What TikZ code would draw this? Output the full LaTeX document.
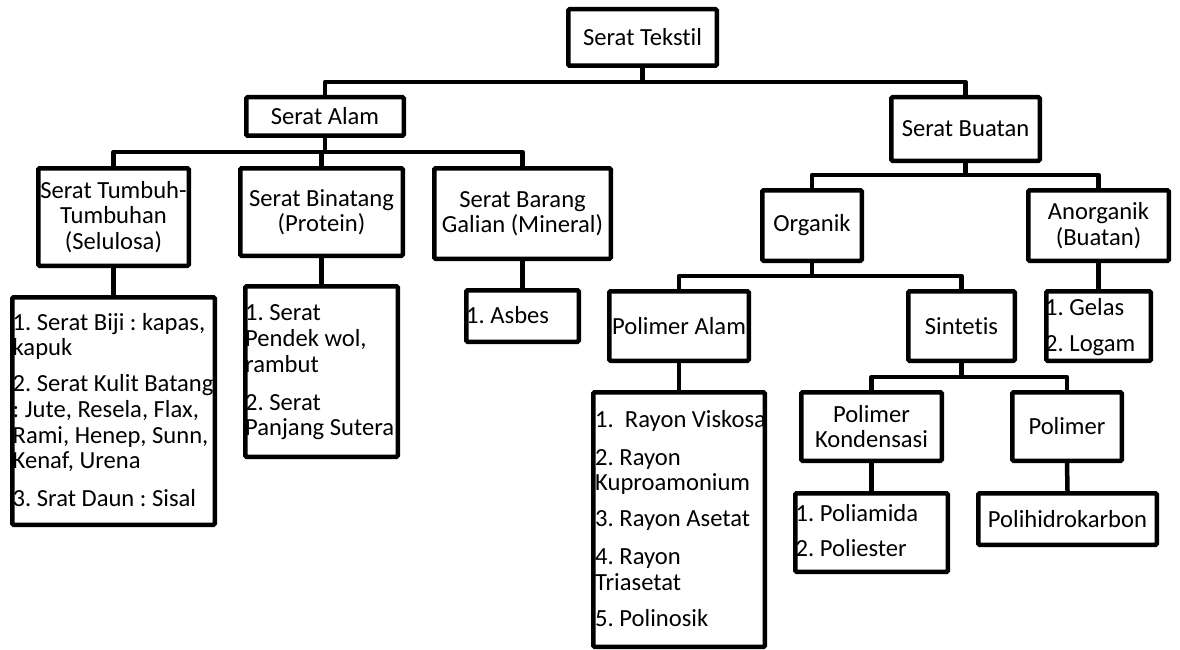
\documentclass[tikz,border=0pt]{standalone}
\usepackage{fontspec}
\setmainfont{Carlito}[Ligatures={NoCommon}]
\frenchspacing
\newcommand\bxnode[6]{\node[bx, minimum width={#4-#2-4.5}, minimum height={#5-#3-4.5}] (#1) at ({(#2+#4)/2},{(#3+#5)/2}) {#6};}
\begin{document}
\frenchspacing
\begin{tikzpicture}[x=1pt,y=-1pt,
  bx/.style={draw, line width=4.5pt, rounded corners=1.2pt, inner sep=0pt, align=center, font=\fontsize{24.6}{25.5}\selectfont},
  lt/.style={anchor=base west, inner sep=0pt, font=\fontsize{24.6}{25.5}\selectfont},
  cn/.style={line width=4.5pt, line join=round}]
\useasboundingbox (0,0) rectangle (1180,650);

% list texts (drawn first so the box borders overlap them)
\node[lt] (t1a) at (12.5,330) {1. Serat Biji : kapas,};
\node[lt] (t1b) at (12.5,355) {kapuk};
\node[lt] (t1c) at (12.5,391.7) {2. Serat Kulit Batang};
\node[lt] (t1d) at (12.5,417) {: Jute, Resela, Flax,};
\node[lt] (t1e) at (12.5,443) {Rami, Henep, Sunn,};
\node[lt] (t1f) at (12.5,468.3) {Kenaf, Urena};
\node[lt] (t1g) at (12.5,506.7) {3. Srat Daun : Sisal};

\node[lt] (t2a) at (245,320.7) {1. Serat};
\node[lt] (t2b) at (245,346.7) {Pendek wol,};
\node[lt] (t2c) at (245,372.3) {rambut};
\node[lt] (t2d) at (245,410) {2. Serat};
\node[lt] (t2e) at (245,435.3) {Panjang Sutera};

\node[lt] (t3a) at (466,323.3) {1. Asbes};

\node[lt] (t4a) at (1045,315.7) {1. Gelas};
\node[lt] (t4b) at (1045,351.7) {2. Logam};

\node[lt] (t5a) at (595,427) {1.\ \ Rayon Viskosa};
\node[lt] (t5b) at (595,465) {2. Rayon};
\node[lt] (t5c) at (595,490.7) {Kuproamonium};
\node[lt] (t5d) at (595,526.7) {3. Rayon Asetat};
\node[lt] (t5e) at (595,564) {4. Rayon};
\node[lt] (t5f) at (595,590) {Triasetat};
\node[lt] (t5g) at (595,626.7) {5. Polinosik};

\node[lt] (t6a) at (795.5,521.7) {1. Poliamida};
\node[lt] (t6b) at (795.5,556.7) {2. Poliester};

% boxes
\bxnode{tek}{566}{7}{719}{68}{Serat Tekstil}
\bxnode{alam}{244}{95}{406}{138}{Serat Alam}
\bxnode{buatan}{889}{95}{1042}{163}{Serat Buatan}
\bxnode{tumbuh}{36}{166}{191}{268}{Serat Tumbuh-\\Tumbuhan\\(Selulosa)}
\bxnode{binatang}{238}{166}{405}{258}{Serat Binatang\\(Protein)}
\bxnode{galian}{432}{166}{613}{261}{Serat Barang\\Galian (Mineral)}
\bxnode{tumbuhL}{10}{295}{217}{527}{}
\bxnode{binatangL}{243}{284}{400}{459}{}
\bxnode{asbes}{464}{288}{581}{344}{}
\bxnode{organik}{760}{188}{864}{263}{Organik}
\bxnode{anorganik}{1026}{188}{1171}{263}{Anorganik\\(Buatan)}
\bxnode{polalam}{607}{289}{751}{363}{Polimer Alam}
\bxnode{sintetis}{906}{289}{1017}{363}{Sintetis}
\bxnode{anorgL}{1044}{289}{1153}{363}{}
\bxnode{polalamL}{591}{390}{767}{649}{}
\bxnode{kond}{799}{390}{944}{463}{Polimer\\Kondensasi}
\bxnode{polimer}{1010}{390}{1124}{463}{Polimer}
\bxnode{kondL}{793}{491}{950}{574}{}
\bxnode{polih}{976}{491}{1159}{547}{Polihidrokarbon}

% bar levels
\coordinate (bar1) at (0,82);
\coordinate (bar2) at (0,152);
\coordinate (bar3) at (0,175);
\coordinate (bar4) at (0,276);
\coordinate (bar5) at (0,377);

% connectors
\draw[cn] (tek.south) -- (tek.south |- bar1);
\draw[cn] (alam.north) |- (tek.south |- bar1) -| (buatan.north);

\draw[cn] (alam.south) -- (alam.south |- bar2);
\draw[cn] (tumbuh.north) |- (alam.south |- bar2) -| (galian.north);
\draw[cn] (binatang.north) -- (binatang.north |- bar2);

\draw[cn] (tumbuh.south) -- (tumbuhL.north);
\draw[cn] (binatang.south) -- (binatangL.north);
\draw[cn] (galian.south) -- (asbes.north);

\draw[cn] (buatan.south) -- (buatan.south |- bar3);
\draw[cn] (organik.north) |- (buatan.south |- bar3) -| (anorganik.north);

\draw[cn] (organik.south) -- (organik.south |- bar4);
\draw[cn] (polalam.north) |- (organik.south |- bar4) -| (sintetis.north);
\draw[cn] (anorganik.south) -- (anorgL.north);
\draw[cn] (polalam.south) -- (polalamL.north);

\draw[cn] (sintetis.south) -- (sintetis.south |- bar5);
\draw[cn] (kond.north) |- (sintetis.south |- bar5) -| (polimer.north);
\draw[cn] (kond.south) -- (kondL.north);
\draw[cn] (polimer.south) -- (polih.north);
\end{tikzpicture}
\end{document}
